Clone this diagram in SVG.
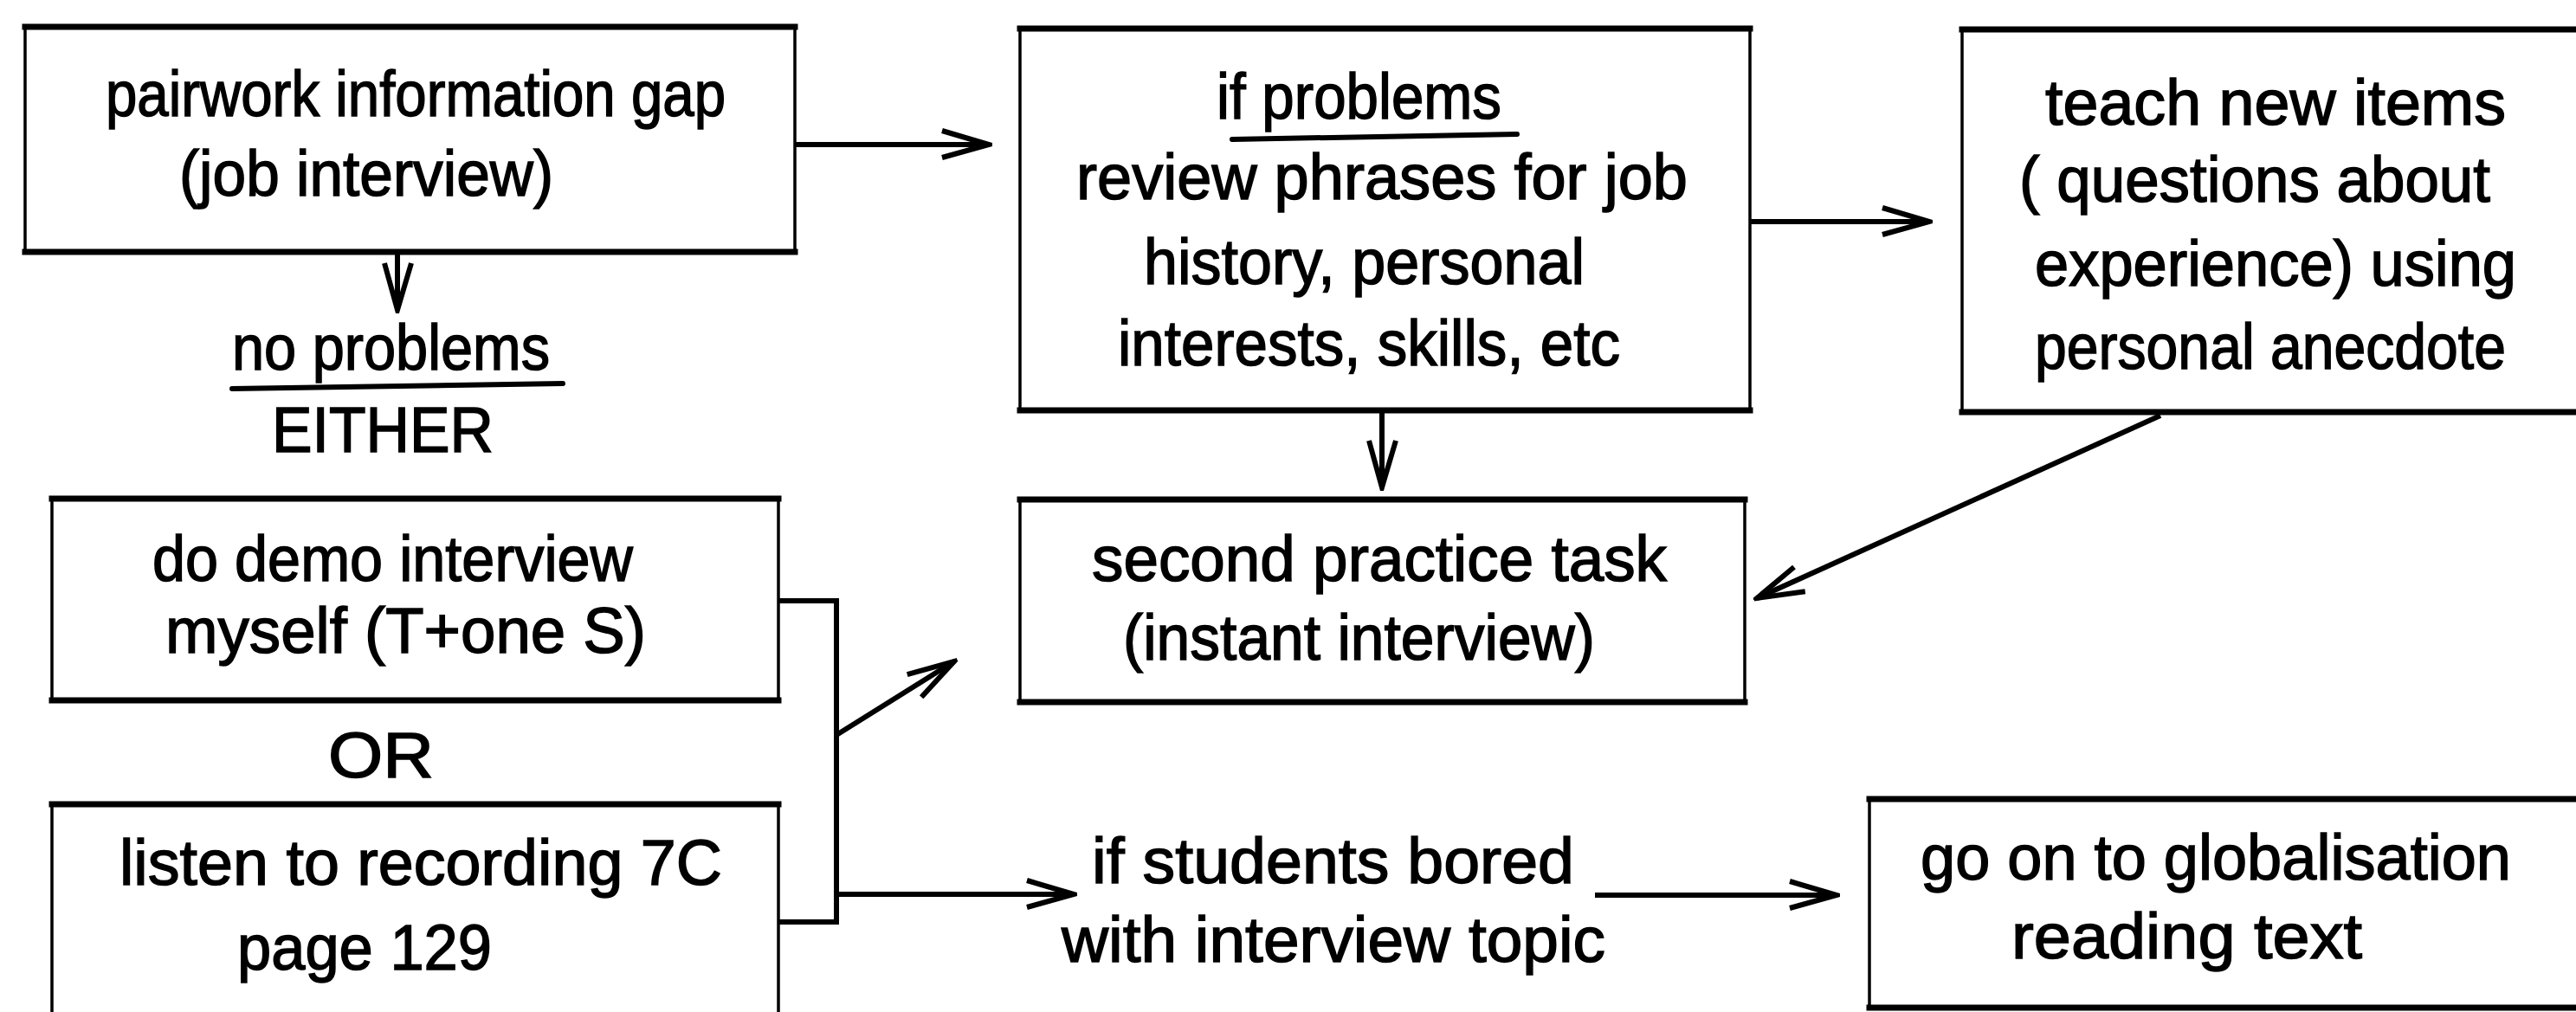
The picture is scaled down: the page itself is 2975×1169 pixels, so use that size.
<svg xmlns="http://www.w3.org/2000/svg" width="2975" height="1169" viewBox="0 0 2975 1169">
<style>
.h{stroke:#000;stroke-width:7;fill:none;stroke-linecap:square}
.v{stroke:#000;stroke-width:3.5;fill:none}
.c{stroke:#000;stroke-width:6;fill:none}
.u{stroke:#000;stroke-width:6;fill:none;stroke-linecap:round}
text{font-family:"Liberation Sans",Arial,sans-serif;font-size:74px;fill:#000;stroke:#000;stroke-width:1.5}
</style>
<defs>
<marker id="ah" markerUnits="userSpaceOnUse" markerWidth="64" markerHeight="44" viewBox="-4 -22 64 44" refX="56" refY="0" orient="auto">
<path d="M2,-16 L56,0 L2,15" fill="none" stroke="#000" stroke-width="6" stroke-linejoin="miter"/>
</marker>
</defs>
<rect width="2975" height="1169" fill="#fff"/>
<g id="connectors">
<path class="c" d="M918,167 H1142" marker-end="url(#ah)"/>
<path class="c" d="M459,294 V358" marker-end="url(#ah)"/>
<path class="c" d="M2021,256 H2228" marker-end="url(#ah)"/>
<path class="c" d="M1596,474 V563" marker-end="url(#ah)"/>
<path class="c" d="M2495,480 L2029,691" marker-end="url(#ah)"/>
<path class="c" d="M899,694 H966 V1065 H899"/>
<path class="c" d="M966,849 L1102,764" marker-end="url(#ah)"/>
<path class="c" d="M966,1033 H1240" marker-end="url(#ah)"/>
<path class="c" d="M1842,1034 H2121" marker-end="url(#ah)"/>
</g>
<g id="n-pairwork">
<path class="h" d="M29,31 H918 M29,291 H918"/>
<path class="v" d="M29,31 V291 M918,31 V291"/>
<text x="122" y="134" textLength="716" lengthAdjust="spacingAndGlyphs">pairwork information gap</text>
<text x="207" y="226" textLength="432" lengthAdjust="spacingAndGlyphs">(job interview)</text>
</g>
<g id="n-noproblems">
<text x="268" y="427" textLength="367" lengthAdjust="spacingAndGlyphs">no problems</text>
<path class="u" d="M268,449 L650,443"/>
<text x="314" y="522" textLength="256" lengthAdjust="spacingAndGlyphs">EITHER</text>
</g>
<g id="n-demo">
<path class="h" d="M60,576 H899 M60,809 H899"/>
<path class="v" d="M60,576 V809 M899,576 V809"/>
<text x="176" y="671" textLength="555" lengthAdjust="spacingAndGlyphs">do demo interview</text>
<text x="191" y="754" textLength="555" lengthAdjust="spacingAndGlyphs">myself (T+one S)</text>
</g>
<g id="n-or">
<text x="379" y="898" textLength="122" lengthAdjust="spacingAndGlyphs">OR</text>
</g>
<g id="n-listen">
<path class="h" d="M60,929 H899"/>
<path class="v" d="M60,929 V1180 M899,929 V1180"/>
<text x="138" y="1022" textLength="696" lengthAdjust="spacingAndGlyphs">listen to recording 7C</text>
<text x="274" y="1120" textLength="294" lengthAdjust="spacingAndGlyphs">page 129</text>
</g>
<g id="n-review">
<path class="h" d="M1178,33 H2021 M1178,474 H2021"/>
<path class="v" d="M1178,33 V474 M2021,33 V474"/>
<text x="1405" y="137" textLength="329" lengthAdjust="spacingAndGlyphs">if problems</text>
<path class="u" d="M1423,161 L1752,155"/>
<text x="1243" y="230" textLength="706" lengthAdjust="spacingAndGlyphs">review phrases for job</text>
<text x="1321" y="328" textLength="509" lengthAdjust="spacingAndGlyphs">history, personal</text>
<text x="1291" y="422" textLength="580" lengthAdjust="spacingAndGlyphs">interests, skills, etc</text>
</g>
<g id="n-teach">
<path class="h" d="M2266,34 H2990 M2266,476 H2990"/>
<path class="v" d="M2266,34 V476"/>
<text x="2362" y="144" textLength="532" lengthAdjust="spacingAndGlyphs">teach new items</text>
<text x="2332" y="233" textLength="544" lengthAdjust="spacingAndGlyphs">( questions about</text>
<text x="2350" y="330" textLength="556" lengthAdjust="spacingAndGlyphs">experience) using</text>
<text x="2350" y="426" textLength="544" lengthAdjust="spacingAndGlyphs">personal anecdote</text>
</g>
<g id="n-second">
<path class="h" d="M1178,577 H2015 M1178,811 H2015"/>
<path class="v" d="M1178,577 V811 M2015,577 V811"/>
<text x="1261" y="671" textLength="664" lengthAdjust="spacingAndGlyphs">second practice task</text>
<text x="1297" y="762" textLength="545" lengthAdjust="spacingAndGlyphs">(instant interview)</text>
</g>
<g id="n-bored">
<text x="1261" y="1020" textLength="557" lengthAdjust="spacingAndGlyphs">if students bored</text>
<text x="1226" y="1111" textLength="628" lengthAdjust="spacingAndGlyphs">with interview topic</text>
</g>
<g id="n-globalisation">
<path class="h" d="M2159,923 H2990 M2159,1164 H2990"/>
<path class="v" d="M2159,923 V1164"/>
<text x="2218" y="1016" textLength="682" lengthAdjust="spacingAndGlyphs">go on to globalisation</text>
<text x="2323" y="1107" textLength="405" lengthAdjust="spacingAndGlyphs">reading text</text>
</g>
</svg>
